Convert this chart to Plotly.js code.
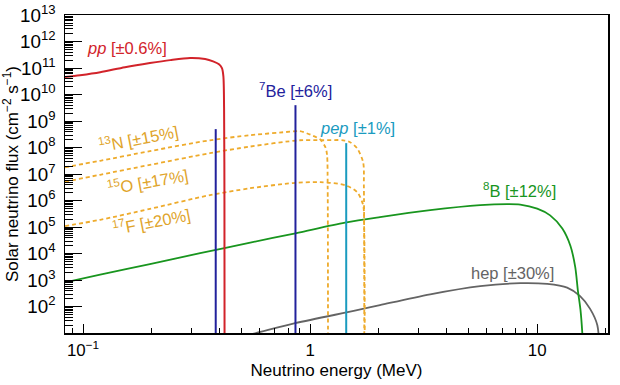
<!DOCTYPE html>
<html>
<head>
<meta charset="utf-8">
<script src="https://cdn.plot.ly/plotly-3.0.1.min.js"></script>
<style>html,body{margin:0;padding:0;background:#fff;}#chart{width:620px;height:385px;}</style>
</head>
<body>
<div id="chart"></div>
<script>
// ---- data (energy in MeV, flux in cm^-2 s^-1 [MeV^-1]) ----
const ppE    = [0.0833, 0.097, 0.119, 0.153, 0.197, 0.242, 0.296, 0.345, 0.374, 0.397, 0.409, 0.415, 0.418, 0.4195, 0.420];
const ppFlux = [4.6e10, 5.4e10, 7.0e10, 1.08e11, 1.55e11, 2.0e11, 2.4e11, 2.2e11, 1.8e11, 1.4e11, 1.0e11, 5e10, 3e9, 1e6, 1];

const n13E    = [0.0833, 0.119, 0.197, 0.362, 0.545, 0.817, 0.90, 1.03, 1.11, 1.17, 1.188, 1.195, 1.199];
const n13Flux = [1.82e7, 3.2e7, 7.4e7, 1.9e8, 2.95e8, 4.0e8, 4.2e8, 2.8e8, 2.0e8, 1.0e8, 5e7, 3.2e6, 1];

const o15E    = [0.0833, 0.119, 0.197, 0.362, 0.545, 0.90, 1.14, 1.40, 1.50, 1.61, 1.712, 1.725, 1.732];
const o15Flux = [5.2e6, 9.5e6, 2.24e7, 6.2e7, 1.1e8, 1.9e8, 1.9e8, 1.9e8, 1.6e8, 9.5e7, 2.8e7, 3.2e6, 1];

const f17E    = [0.0833, 0.119, 0.197, 0.362, 0.545, 0.84, 1.11, 1.43, 1.61, 1.712, 1.73, 1.740];
const f17Flux = [1.1e5, 1.9e5, 4.9e5, 1.62e6, 2.95e6, 4.6e6, 5.0e6, 3.8e6, 2.1e6, 6.8e5, 1e5, 1];

const b8E    = [0.0833, 0.119, 0.197, 0.328, 0.545, 0.862, 1.426, 2.03, 3.38, 5.61, 7.38, 8.42, 10.0, 11.4, 12.9, 14.0, 14.7, 15.1, 15.5, 15.8, 16.0];
const b8Flux = [832, 1620, 4070, 1.05e4, 2.63e4, 5.9e4, 1.48e5, 2.4e5, 4.4e5, 6.8e5, 7.4e5, 7.1e5, 5.0e5, 2.8e5, 8.9e4, 2.0e4, 3.2e3, 417, 79, 10, 1];

const hepE    = [0.50, 0.573, 0.859, 1.61, 2.03, 3.38, 5.61, 8.42, 11.07, 13.55, 15.45, 17.1, 18.4, 18.77];
const hepFlux = [7.6, 10, 24, 74, 115, 295, 600, 776, 724, 525, 251, 83, 20, 1];

const be7E    = [0.384, 0.862];
const be7Flux = [5.0e8, 4.0e9];
const pepE    = [1.442];
const pepFlux = [1.48e8];

const labels = ['<i>pp</i> [±0.6%]', '<sup>7</sup>Be [±6%]', '<i>pep</i> [±1%]', '<sup>13</sup>N [±15%]',
                '<sup>15</sup>O [±17%]', '<sup>17</sup>F [±20%]', '<sup>8</sup>B [±12%]', 'hep [±30%]'];

// ---- styling ----
const C = {pp:'#d2232a', be:'#22219c', pep:'#1a9bbf', cno:'#eeab2c', cnoText:'#e0a42a', b8:'#18951e', hep:'#646464'};
const FONT = 'Liberation Sans, Arial, Helvetica, sans-serif';

function lineTrace(x, y, color, width, dash, smooth) {
  const line = {color: color, width: width, dash: dash || 'solid', shape: smooth ? 'spline' : 'linear'};
  if (smooth) line.smoothing = smooth;
  return {x: x, y: y, type: 'scatter', mode: 'lines', hoverinfo: 'skip', line: line};
}
function spikes(E, F, color) {
  const x = [], y = [];
  E.forEach((e, i) => { x.push(e, e, null); y.push(1, F[i], null); });
  return lineTrace(x, y, color, 2);
}

const traces = [
  lineTrace(hepE, hepFlux, C.hep, 1.8, 'solid', 0.9),
  lineTrace(b8E, b8Flux, C.b8, 1.8, 'solid', 0.9),
  lineTrace(f17E, f17Flux, C.cno, 1.8, '4px,3px', 0.8),
  lineTrace(o15E, o15Flux, C.cno, 1.8, '4px,3px', 0.8),
  lineTrace(n13E, n13Flux, C.cno, 1.8, '4px,3px', 0.8),
  spikes(pepE, pepFlux, C.pep),
  spikes(be7E, be7Flux, C.be),
  lineTrace(ppE, ppFlux, C.pp, 2, 'solid', 0.8)
];

// label placement in pixel space of the 620x385 figure -> paper coords
const L = 65, R = 608, T = 15, B = 333;
const px = v => (v - L) / (R - L);
const py = v => (B - v) / (B - T);
const labelPos = [[127, 48, 0], [295, 90, 0], [357, 128, 0], [138, 138, -11],
                  [148, 181, -10], [151, 221, -11], [519, 190, 0], [512, 273, 0]];
const labelCol = [C.pp, C.be, C.pep, C.cnoText, C.cnoText, C.cnoText, C.b8, C.hep];

const annotations = labels.map((t, i) => ({
  text: t, xref: 'paper', yref: 'paper', x: px(labelPos[i][0]), y: py(labelPos[i][1]),
  xanchor: 'center', yanchor: 'middle', showarrow: false, textangle: labelPos[i][2],
  font: {family: FONT, size: 16.5, color: labelCol[i]}
}));

const axisCommon = {
  type: 'log', dtick: 1, exponentformat: 'power', showgrid: false, zeroline: false,
  showline: true, linecolor: '#000', linewidth: 1.5, mirror: true,
  ticks: 'inside', tickcolor: '#000', tickwidth: 1
};

const layout = {
  width: 620, height: 385,
  margin: {l: L, r: 620 - R, t: T, b: 385 - B, pad: 0},
  paper_bgcolor: '#fff', plot_bgcolor: '#fff',
  showlegend: false,
  font: {family: FONT, color: '#000'},
  xaxis: Object.assign({}, axisCommon, {
    range: [Math.log10(0.0833), Math.log10(20.5)],
    ticklen: 9, tickfont: {size: 13.5, color: '#000'}, ticklabelstandoff: 2,
    minor: {ticks: 'inside', ticklen: 5, dtick: 'D1', tickcolor: '#000', tickwidth: 1, showgrid: false},
    title: {text: 'Neutrino energy (MeV)', font: {size: 17, color: '#000'}, standoff: 5}
  }),
  yaxis: Object.assign({}, axisCommon, {
    range: [1.01, 13.003],
    ticklen: 17, tickfont: {size: 15, color: '#000'}, ticklabelstandoff: 5,
    minor: {ticks: 'inside', ticklen: 8, dtick: 'D1', tickcolor: '#000', tickwidth: 1, showgrid: false},
    title: {text: 'Solar neutrino flux (cm<sup>−2</sup> s<sup>−1</sup>)', font: {size: 17, color: '#000'}, standoff: 4}
  }),
  annotations: annotations
};

Plotly.newPlot('chart', traces, layout, {staticPlot: true, displayModeBar: false});
</script>
</body>
</html>
